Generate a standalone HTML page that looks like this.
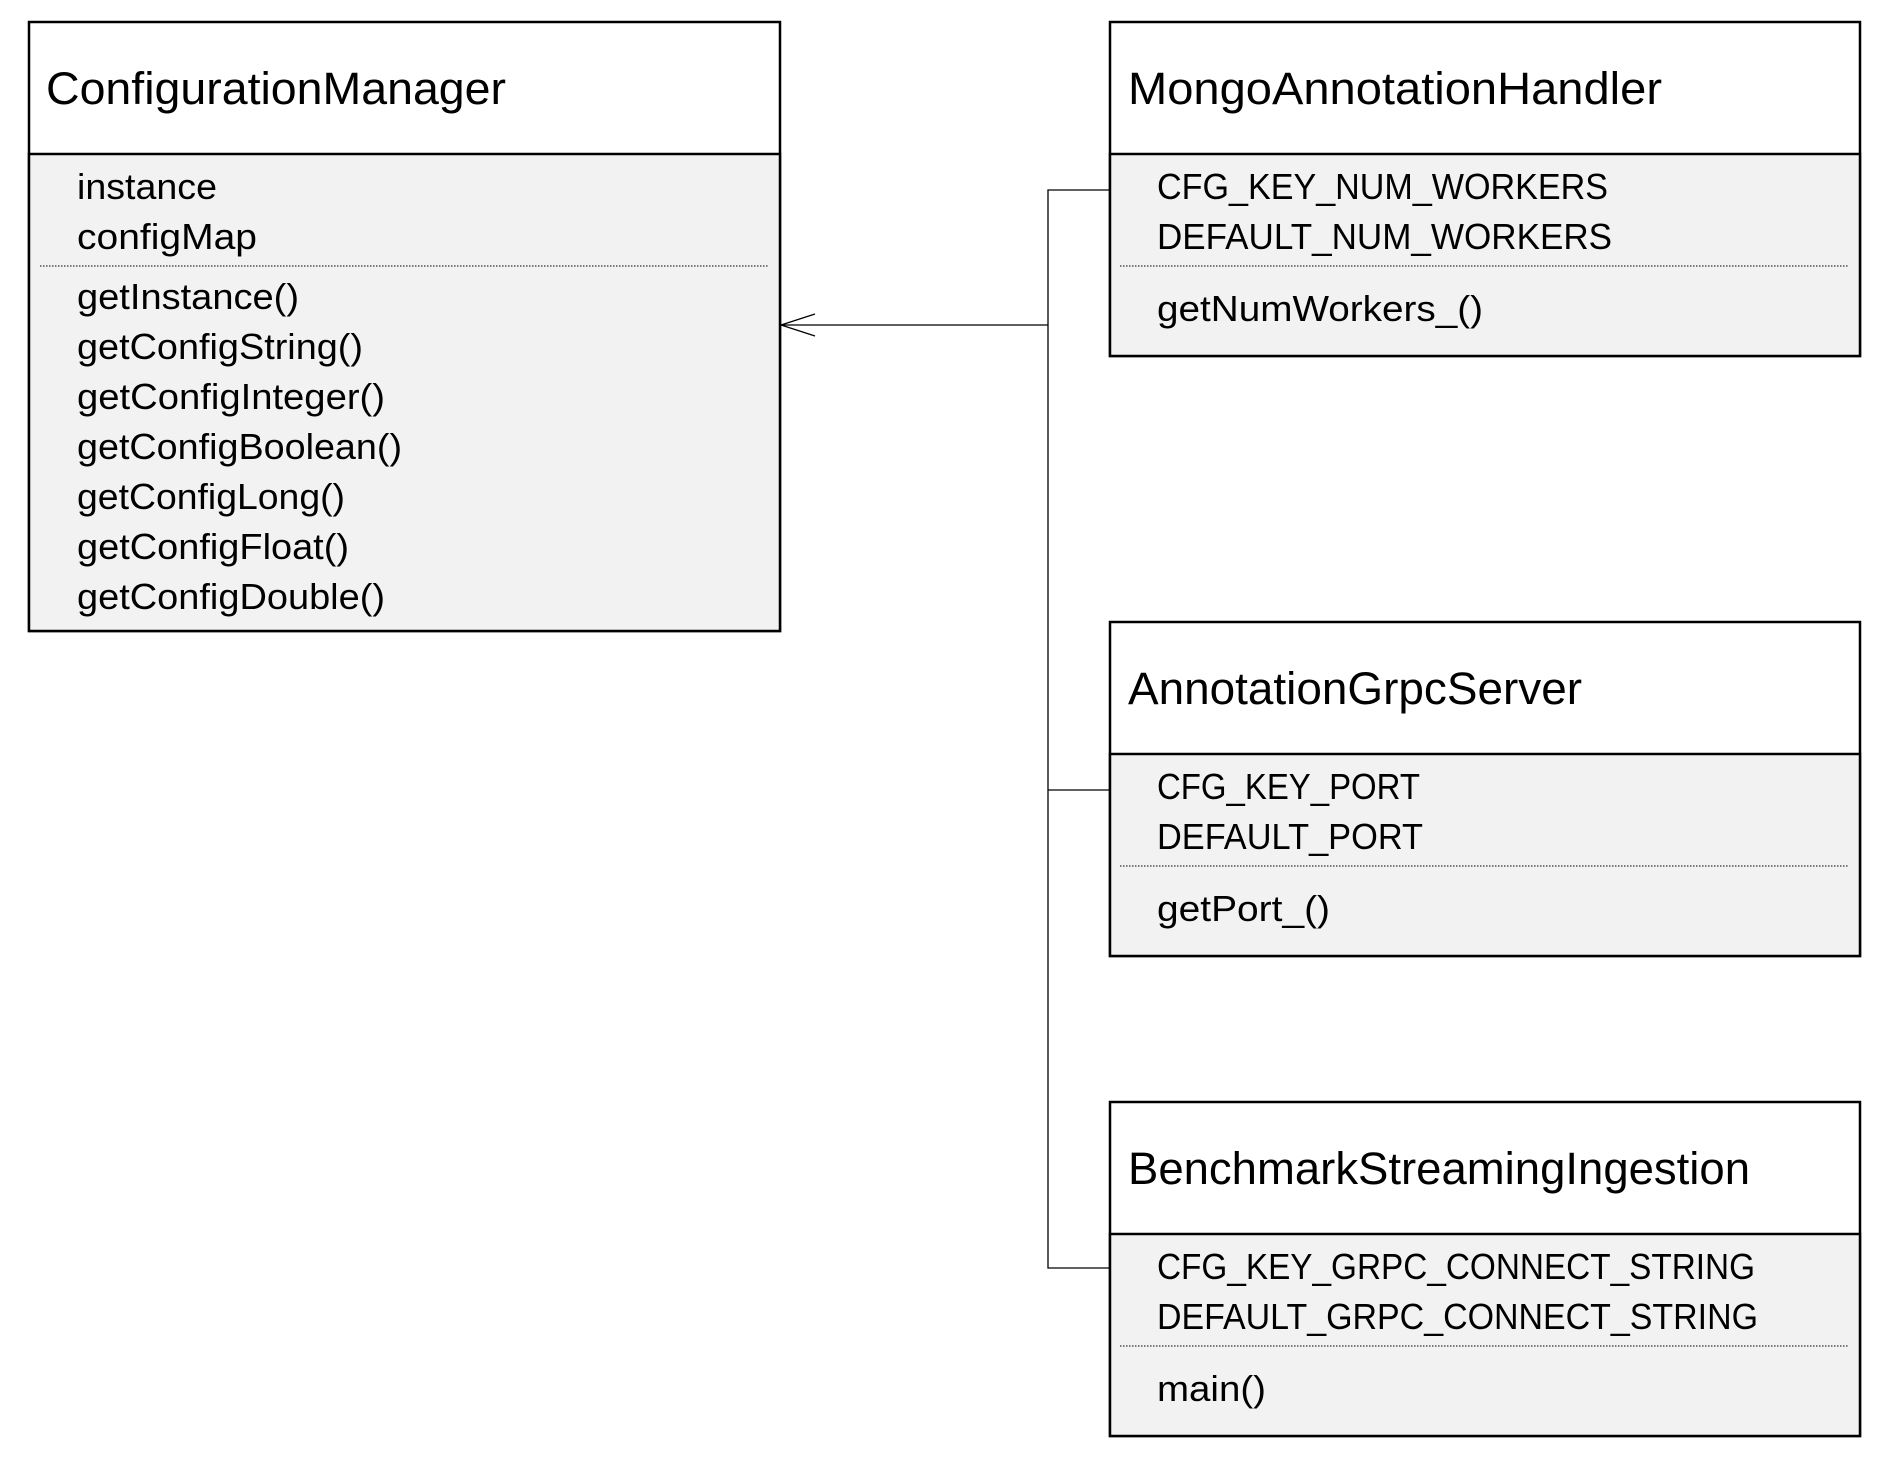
<!DOCTYPE html>
<html><head><meta charset="utf-8"><style>html,body{margin:0;padding:0;background:#fff}svg{display:block}text{font-family:"Liberation Sans",sans-serif;fill:#000}</style></head><body>
<svg width="1881" height="1459" viewBox="0 0 1881 1459" xmlns="http://www.w3.org/2000/svg">
<g stroke="#000" stroke-width="2.5">
<rect x="29" y="22" width="751" height="609" fill="#fff"/>
<rect x="29" y="154" width="751" height="477" fill="#f2f2f2"/>
<rect x="1110" y="22" width="750" height="334" fill="#fff"/>
<rect x="1110" y="154" width="750" height="202" fill="#f2f2f2"/>
<rect x="1110" y="622" width="750" height="334" fill="#fff"/>
<rect x="1110" y="754" width="750" height="202" fill="#f2f2f2"/>
<rect x="1110" y="1102" width="750" height="334" fill="#fff"/>
<rect x="1110" y="1234" width="750" height="202" fill="#f2f2f2"/>
</g>
<g stroke="#000" stroke-width="1" stroke-dasharray="1.5,1.5">
<line x1="40" y1="266" x2="769" y2="266"/>
<line x1="1120" y1="266" x2="1849" y2="266"/>
<line x1="1120" y1="866" x2="1849" y2="866"/>
<line x1="1120" y1="1346" x2="1849" y2="1346"/>
</g>
<g stroke="#000" stroke-width="1.3" fill="none">
<polyline points="1110,190 1048,190 1048,1268 1110,1268"/>
<line x1="1048" y1="790" x2="1110" y2="790"/>
<line x1="1048" y1="325" x2="781" y2="325"/>
<polyline points="815,314 781,325 815,336"/>
</g>
<g font-size="45" lengthAdjust="spacingAndGlyphs">
<text x="46" y="104" textLength="460" lengthAdjust="spacingAndGlyphs">ConfigurationManager</text>
<text x="1128" y="104" textLength="534" lengthAdjust="spacingAndGlyphs">MongoAnnotationHandler</text>
<text x="1128" y="704" textLength="454" lengthAdjust="spacingAndGlyphs">AnnotationGrpcServer</text>
<text x="1128" y="1184" textLength="622" lengthAdjust="spacingAndGlyphs">BenchmarkStreamingIngestion</text>
</g>
<g font-size="36">
<text x="77" y="199" textLength="140" lengthAdjust="spacingAndGlyphs">instance</text>
<text x="77" y="249" textLength="180" lengthAdjust="spacingAndGlyphs">configMap</text>
<text x="77" y="309" textLength="222" lengthAdjust="spacingAndGlyphs">getInstance()</text>
<text x="77" y="359" textLength="286" lengthAdjust="spacingAndGlyphs">getConfigString()</text>
<text x="77" y="409" textLength="308" lengthAdjust="spacingAndGlyphs">getConfigInteger()</text>
<text x="77" y="459" textLength="325" lengthAdjust="spacingAndGlyphs">getConfigBoolean()</text>
<text x="77" y="509" textLength="268" lengthAdjust="spacingAndGlyphs">getConfigLong()</text>
<text x="77" y="559" textLength="272" lengthAdjust="spacingAndGlyphs">getConfigFloat()</text>
<text x="77" y="609" textLength="308" lengthAdjust="spacingAndGlyphs">getConfigDouble()</text>

<text x="1157" y="199" textLength="451" lengthAdjust="spacingAndGlyphs">CFG_KEY_NUM_WORKERS</text>
<text x="1157" y="249" textLength="455" lengthAdjust="spacingAndGlyphs">DEFAULT_NUM_WORKERS</text>
<text x="1157" y="321" textLength="326" lengthAdjust="spacingAndGlyphs">getNumWorkers_()</text>

<text x="1157" y="799" textLength="263" lengthAdjust="spacingAndGlyphs">CFG_KEY_PORT</text>
<text x="1157" y="849" textLength="266" lengthAdjust="spacingAndGlyphs">DEFAULT_PORT</text>
<text x="1157" y="921" textLength="173" lengthAdjust="spacingAndGlyphs">getPort_()</text>

<text x="1157" y="1279" textLength="598" lengthAdjust="spacingAndGlyphs">CFG_KEY_GRPC_CONNECT_STRING</text>
<text x="1157" y="1329" textLength="601" lengthAdjust="spacingAndGlyphs">DEFAULT_GRPC_CONNECT_STRING</text>
<text x="1157" y="1401" textLength="109" lengthAdjust="spacingAndGlyphs">main()</text>
</g>
</svg>
</body></html>
